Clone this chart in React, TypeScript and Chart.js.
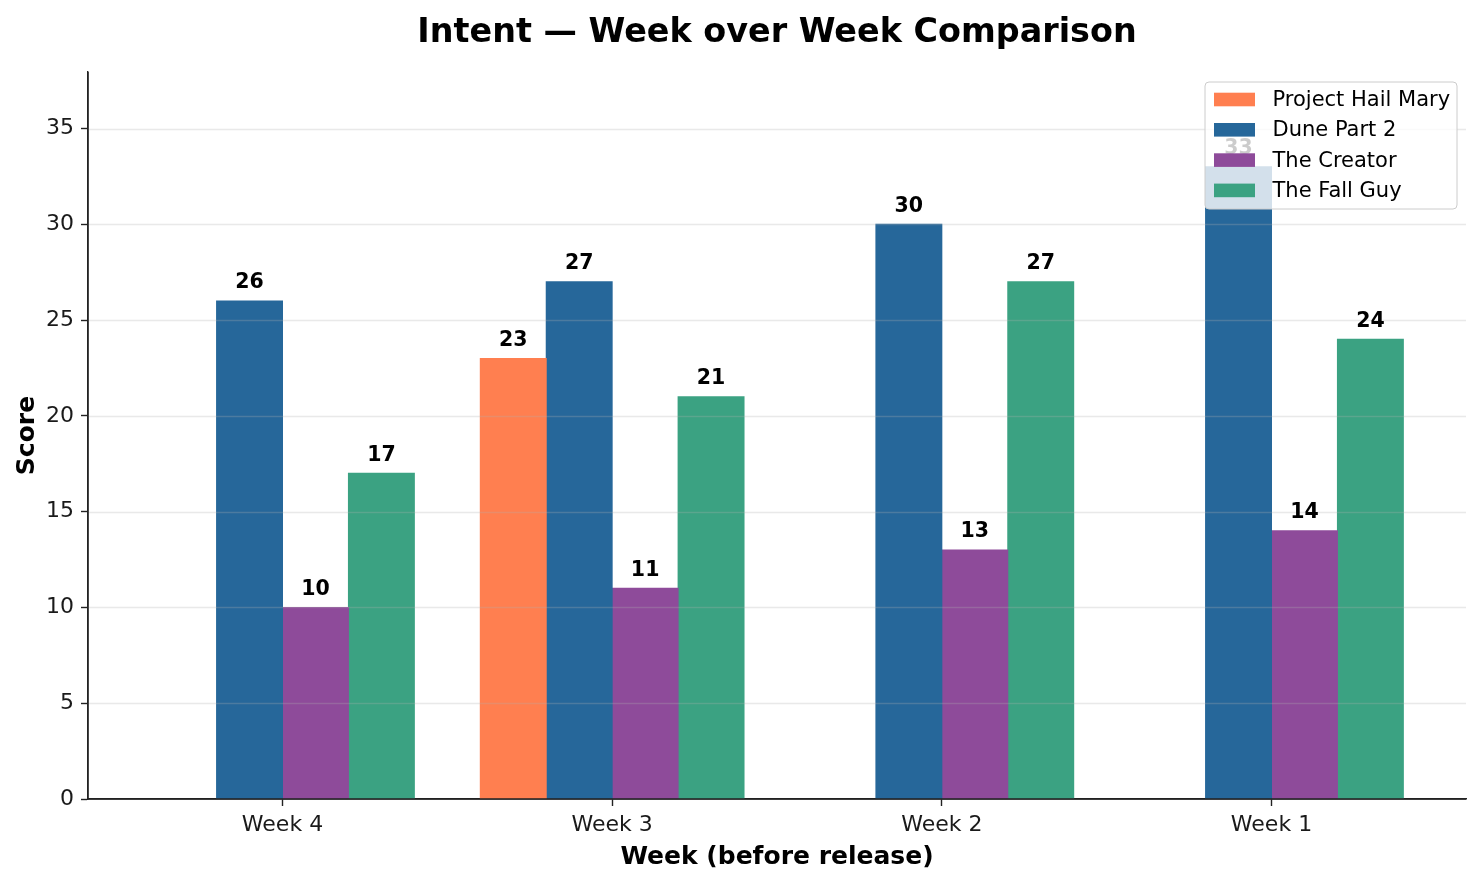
import React, { useEffect, useRef } from 'react';
import { Chart, registerables } from 'chart.js';

Chart.register(...registerables);

const weeks = ['Week 4', 'Week 3', 'Week 2', 'Week 1'];
const seriesNames = ['Project Hail Mary', 'Dune Part 2', 'The Creator', 'The Fall Guy'];
const projectHailMary: (number | null)[] = [null, 23, null, null];
const dunePart2: (number | null)[] = [26, 27, 30, 33];
const theCreator: (number | null)[] = [10, 11, 13, 14];
const theFallGuy: (number | null)[] = [17, 21, 27, 24];
const yTickValues = [0, 5, 10, 15, 20, 25, 30, 35];
const seriesColors = ['#FF7F50', '#26679A', '#8E4B9A', '#3BA282'];
const chartTitle = 'Intent — Week over Week Comparison';

const FONT = "'DejaVu Sans', 'Noto Sans', sans-serif";
const INK = '#1a1a1a';

const toPoints = (vals: (number | null)[]) =>
  vals
    .map((v, i) => (v == null ? null : { x: i, y: v }))
    .filter((p) => p !== null) as { x: number; y: number }[];

const overlayPlugin = {
  id: 'overlay',
  afterDatasetsDraw(chart: any) {
    const { ctx, chartArea } = chart;
    const yScale = chart.scales.y;
    ctx.save();
    // grid lines above bars (semi-transparent)
    ctx.strokeStyle = 'rgba(176,176,176,0.28)';
    ctx.lineWidth = 1.5;
    yTickValues.forEach((v) => {
      if (v === 0) return;
      const py = Math.round(yScale.getPixelForValue(v)) + 0.5;
      ctx.beginPath();
      ctx.moveTo(chartArea.left, py);
      ctx.lineTo(chartArea.right, py);
      ctx.stroke();
    });
    // spines on top
    ctx.strokeStyle = '#222';
    ctx.lineWidth = 1.4;
    ctx.beginPath();
    ctx.moveTo(chartArea.left, chartArea.top);
    ctx.lineTo(chartArea.left, chartArea.bottom);
    ctx.lineTo(chartArea.right, chartArea.bottom);
    ctx.stroke();
    // value labels
    ctx.fillStyle = '#000';
    ctx.font = `bold 20.5px ${FONT}`;
    ctx.textAlign = 'center';
    ctx.textBaseline = 'alphabetic';
    chart.data.datasets.forEach((ds: any, di: number) => {
      const meta = chart.getDatasetMeta(di);
      meta.data.forEach((el: any, i: number) => {
        const raw = ds.data[i];
        if (!raw) return;
        ctx.fillText(String(raw.y), el.x, el.y - 12.5);
      });
    });
    ctx.restore();
  },
  afterDraw(chart: any) {
    const { ctx, chartArea } = chart;
    // title centred over the plot area
    ctx.save();
    ctx.fillStyle = '#000';
    ctx.font = `bold 33.4px ${FONT}`;
    ctx.textAlign = 'center';
    ctx.textBaseline = 'alphabetic';
    ctx.fillText(chartTitle, (chartArea.left + chartArea.right) / 2, 41.5);
    ctx.restore();

    const w = 252;
    const h = 127;
    const x0 = chartArea.right - 9 - w;
    const y0 = chartArea.top + 10;
    const r = 4;
    ctx.save();
    ctx.beginPath();
    ctx.moveTo(x0 + r, y0);
    ctx.lineTo(x0 + w - r, y0);
    ctx.quadraticCurveTo(x0 + w, y0, x0 + w, y0 + r);
    ctx.lineTo(x0 + w, y0 + h - r);
    ctx.quadraticCurveTo(x0 + w, y0 + h, x0 + w - r, y0 + h);
    ctx.lineTo(x0 + r, y0 + h);
    ctx.quadraticCurveTo(x0, y0 + h, x0, y0 + h - r);
    ctx.lineTo(x0, y0 + r);
    ctx.quadraticCurveTo(x0, y0, x0 + r, y0);
    ctx.closePath();
    ctx.fillStyle = 'rgba(255,255,255,0.8)';
    ctx.fill();
    ctx.strokeStyle = '#cccccc';
    ctx.lineWidth = 1;
    ctx.stroke();
    ctx.font = `21px ${FONT}`;
    ctx.textAlign = 'left';
    ctx.textBaseline = 'middle';
    chart.data.datasets.forEach((ds: any, i: number) => {
      const cy = y0 + 17.5 + i * 30.3;
      ctx.fillStyle = ds.backgroundColor;
      ctx.fillRect(x0 + 9, cy - 6.8, 41, 13.6);
      ctx.fillStyle = '#000';
      ctx.fillText(ds.label, x0 + 67.5, cy + 1);
    });
    ctx.restore();
  },
};

export default function App() {
  const canvasRef = useRef<HTMLCanvasElement | null>(null);

  useEffect(() => {
    const canvas = canvasRef.current;
    if (!canvas) return;
    const seriesValues = [projectHailMary, dunePart2, theCreator, theFallGuy];
    const chart = new Chart(canvas, {
      type: 'bar',
      data: {
        datasets: seriesNames.map((name, i) => ({
          label: name,
          data: toPoints(seriesValues[i]),
          backgroundColor: seriesColors[i],
          borderWidth: 0,
          inflateAmount: 0.5,
          categoryPercentage: 0.8,
          barPercentage: 1.0,
          grouped: true,
        })),
      } as any,
      options: {
        responsive: false,
        animation: false,
        layout: { padding: { left: 0, right: 16, top: 72, bottom: 0 } },
        plugins: {
          legend: { display: false },
          tooltip: { enabled: false },
          title: { display: false },
        },
        scales: {
          x: {
            type: 'linear',
            min: -0.59,
            max: 3.59,
            offset: false,
            afterBuildTicks: (scale: any) => {
              scale.ticks = weeks.map((_, i) => ({ value: i }));
            },
            afterFit: (scale: any) => {
              scale.height = 85;
            },
            ticks: {
              autoSkip: false,
              maxRotation: 0,
              color: INK,
              padding: 6,
              font: { family: FONT, size: 22 },
              callback: (v: any) => weeks[Math.round(Number(v))] ?? '',
            },
            grid: {
              offset: false,
              drawOnChartArea: false,
              drawTicks: true,
              tickLength: 7,
              tickColor: '#222',
              tickWidth: 1.4,
            },
            border: { display: true, color: '#222', width: 1.4 },
            title: {
              display: true,
              text: 'Week (before release)',
              color: '#000',
              font: { family: FONT, size: 25, weight: 'bold', lineHeight: 1.2 },
              padding: { top: 4, bottom: 12 },
            },
          },
          y: {
            type: 'linear',
            min: 0,
            max: 37.95,
            afterBuildTicks: (scale: any) => {
              scale.ticks = yTickValues.map((v) => ({ value: v }));
            },
            afterFit: (scale: any) => {
              scale.width = 88;
            },
            ticks: {
              color: INK,
              padding: 7,
              font: { family: FONT, size: 22 },
            },
            grid: {
              drawOnChartArea: false,
              drawTicks: true,
              tickLength: 7,
              tickColor: '#222',
              tickWidth: 1.4,
            },
            border: { display: true, color: '#222', width: 1.4 },
            title: {
              display: true,
              text: 'Score',
              color: '#000',
              font: { family: FONT, size: 25, weight: 'bold', lineHeight: 1.2 },
              padding: { top: 12, bottom: 0 },
            },
          },
        },
      } as any,
      plugins: [overlayPlugin],
    });
    return () => chart.destroy();
  }, []);

  return (
    <div style={{ position: 'fixed', left: 0, top: 0, width: 1482, height: 884, background: '#fff' }}>
      <canvas ref={canvasRef} width={1482} height={884} style={{ display: 'block' }} />
    </div>
  );
}
